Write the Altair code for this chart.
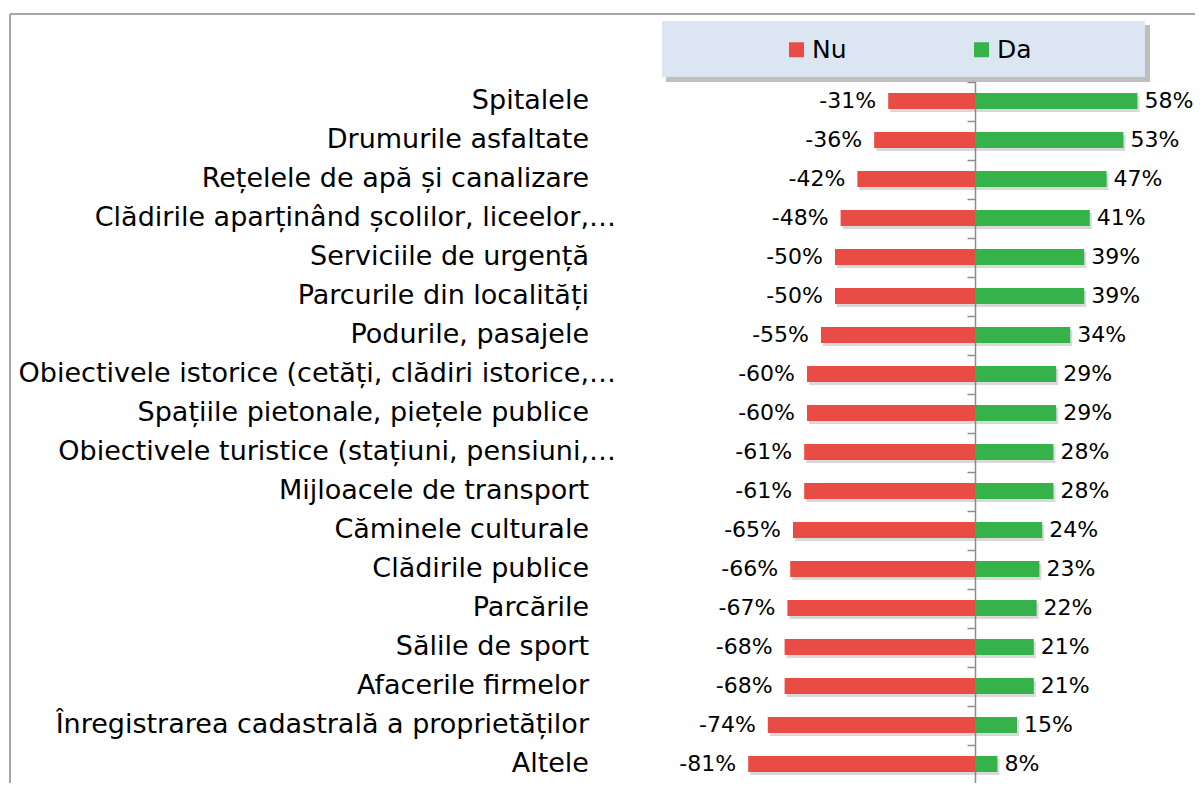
import altair as alt
import pandas as pd

categories = [
    "Spitalele",
    "Drumurile asfaltate",
    "Rețelele de apă și canalizare",
    "Clădirile aparținând școlilor, liceelor,…",
    "Serviciile de urgență",
    "Parcurile din localități",
    "Podurile, pasajele",
    "Obiectivele istorice (cetăți, clădiri istorice,…",
    "Spațiile pietonale, piețele publice",
    "Obiectivele turistice (stațiuni, pensiuni,…",
    "Mijloacele de transport",
    "Căminele culturale",
    "Clădirile publice",
    "Parcările",
    "Sălile de sport",
    "Afacerile firmelor",
    "Înregistrarea cadastrală a proprietăților",
    "Altele",
]
nu_values = [-31, -36, -42, -48, -50, -50, -55, -60, -60, -61, -61, -65, -66, -67, -68, -68, -74, -81]
da_values = [58, 53, 47, 41, 39, 39, 34, 29, 29, 28, 28, 24, 23, 22, 21, 21, 15, 8]
series_names = ["Nu", "Da"]

RED = "#E84C44"
GREEN = "#35B34A"
FONT = "DejaVu Sans"

rows = []
for c, n, d in zip(categories, nu_values, da_values):
    rows.append({"cat": c, "series": "Nu", "value": n})
    rows.append({"cat": c, "series": "Da", "value": d})
df = pd.DataFrame(rows)

lab_df = pd.DataFrame({
    "cat": categories,
    "main": [c[:-1] if c.endswith("…") else c for c in categories],
    "ell": ["…" if c.endswith("…") else "" for c in categories],
})
one = pd.DataFrame({"a": [0]})

# layout constants (pixels, plot coordinates)
W, H = 1185, 769
ZERO = 965
K = 2.8
LABEL_X = (579 - ZERO) / K

x_scale = alt.Scale(domain=[-ZERO / K, (W - ZERO) / K], nice=False, zero=False)
x_axis = None

y_enc = alt.Y(
    "cat:N", sort=categories, title=None,
    scale=alt.Scale(range=[67.5, 769.5], paddingInner=0, paddingOuter=0),
    axis=alt.Axis(orient="left", offset=-ZERO, labels=False, grid=False,
                  domainColor="#8c8c8c", domainWidth=1.5,
                  tickColor="#8c8c8c", tickWidth=1.5, tickSize=8, tickBand="extent"),
)

legend_shadow = alt.Chart(one).mark_rect(color="#8a8a8a", opacity=0.55).encode(
    x=alt.value(656), x2=alt.value(1140), y=alt.value(11), y2=alt.value(68))
legend_box = alt.Chart(one).mark_rect(color="#DCE6F2").encode(
    x=alt.value(652), x2=alt.value(1135), y=alt.value(7), y2=alt.value(63))

bar_shadow = alt.Chart(df).mark_bar(size=16, color="#808080", opacity=0.3,
                                    xOffset=2, x2Offset=2, yOffset=3, y2Offset=3).encode(
    x=alt.X("value:Q", scale=x_scale, axis=x_axis, stack=None),
    y=y_enc,
)

bars = alt.Chart(df).mark_bar(size=16).encode(
    x=alt.X("value:Q", scale=x_scale, axis=x_axis, stack=None),
    y=y_enc,
    color=alt.Color(
        "series:N",
        scale=alt.Scale(domain=series_names, range=[RED, GREEN]),
        legend=alt.Legend(title=None, orient="none", legendX=774, legendY=23,
                          direction="horizontal", symbolType="square", symbolSize=225,
                          symbolStrokeWidth=0, labelFontSize=25, labelFont=FONT,
                          labelColor="#000000", labelOffset=3, columnPadding=122,
                          padding=0),
    ),
)

nu_text = alt.Chart(df).transform_filter("datum.series == 'Nu'").transform_calculate(
    lbl="datum.value + '%'"
).mark_text(align="right", baseline="middle", dx=-12, fontSize=22, font=FONT, color="#000000").encode(
    x=alt.X("value:Q", scale=x_scale, axis=x_axis),
    y=y_enc,
    text="lbl:N",
)

da_text = alt.Chart(df).transform_filter("datum.series == 'Da'").transform_calculate(
    lbl="datum.value + '%'"
).mark_text(align="left", baseline="middle", dx=7, fontSize=22, font=FONT, color="#000000").encode(
    x=alt.X("value:Q", scale=x_scale, axis=x_axis),
    y=y_enc,
    text="lbl:N",
)

cat_text = alt.Chart(lab_df).mark_text(align="right", baseline="middle", fontSize=27, font=FONT,
                                       color="#000000").encode(
    x=alt.datum(LABEL_X),
    y=y_enc,
    text="main:N",
)

ell_text = alt.Chart(lab_df).mark_text(align="left", baseline="middle", fontSize=27, font=FONT,
                                       color="#000000").encode(
    x=alt.datum(LABEL_X),
    y=y_enc,
    text="ell:N",
)

top_border = alt.Chart(one).mark_rule(color="#a6a6a6", strokeWidth=2).encode(
    x=alt.value(0), x2=alt.value(W + 10), y=alt.value(0))
left_border = alt.Chart(one).mark_rule(color="#a6a6a6", strokeWidth=2).encode(
    x=alt.value(0), y=alt.value(0), y2=alt.value(H + 20))

chart = alt.layer(
    legend_shadow, legend_box, bar_shadow, bars, nu_text, da_text, cat_text, ell_text,
    top_border, left_border,
).properties(
    width=W, height=H,
    autosize=alt.AutoSizeParams(type="none"),
    padding={"left": 2, "top": 6, "right": 0, "bottom": 0},
).configure_view(stroke=None)

chart.save("out.html", embed_options={"renderer": "svg", "actions": False})
